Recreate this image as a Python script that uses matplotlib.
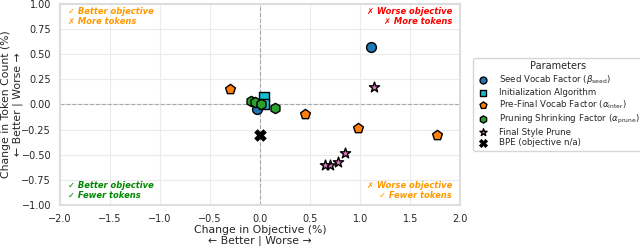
import matplotlib
matplotlib.use("Agg")
import matplotlib.pyplot as plt
import seaborn as sns

sns.set_theme(style="whitegrid")
plt.rcParams['font.family'] = ['DejaVu Sans']

seed_x = [1.11, -0.03]
seed_y = [0.57, -0.05]
init_x = [0.04, 0.04]
init_y = [0.07, 0.00]
inter_x = [-0.30, 0.45, 0.98, 1.77]
inter_y = [0.15, -0.10, -0.23, -0.30]
prune_x = [-0.09, -0.05, 0.01, 0.15]
prune_y = [0.03, 0.02, 0.00, -0.04]
style_x = [1.14, 0.85, 0.78, 0.70, 0.65]
style_y = [0.17, -0.48, -0.57, -0.60, -0.60]
bpe_x = [0.0]
bpe_y = [-0.30]

xticks = [-2.0, -1.5, -1.0, -0.5, 0.0, 0.5, 1.0, 1.5, 2.0]
yticks = [-1.00, -0.75, -0.50, -0.25, 0.00, 0.25, 0.50, 0.75, 1.00]

fig = plt.figure(figsize=(6.4, 2.46), dpi=100)
ax = fig.add_axes([0.094, 0.167, 0.625, 0.817])

ax.axhline(0, color='#aaaaaa', ls='--', lw=0.8, zorder=1)
ax.axvline(0, color='#aaaaaa', ls='--', lw=0.8, zorder=1)

ax.scatter(seed_x, seed_y, marker='o', s=50, c='#1f77b4', edgecolors='black', linewidths=1, label=r'Seed Vocab Factor ($\beta_{\mathrm{seed}}$)', zorder=3)
ax.scatter(init_x, init_y, marker='s', s=50, c='#17becf', edgecolors='black', linewidths=1, label='Initialization Algorithm', zorder=3)
ax.scatter(inter_x, inter_y, marker='p', s=55, c='#ff7f0e', edgecolors='black', linewidths=1, label=r'Pre-Final Vocab Factor ($\alpha_{\mathrm{inter}}$)', zorder=3)
ax.scatter(prune_x, prune_y, marker='h', s=55, c='#2ca02c', edgecolors='black', linewidths=1, label=r'Pruning Shrinking Factor ($\alpha_{\mathrm{prune}}$)', zorder=4)
ax.scatter(style_x, style_y, marker='*', s=60, c='#e377c2', edgecolors='black', linewidths=1, label='Final Style Prune', zorder=3)
ax.scatter(bpe_x, bpe_y, marker='X', s=70, c='black', edgecolors='black', linewidths=0.5, label='BPE (objective n/a)', zorder=3)

ax.set_xlim(-2, 2)
ax.set_ylim(-1, 1)
ax.set_xticks(xticks)
ax.set_yticks(yticks)
ax.tick_params(labelsize=7, pad=0.5)
ax.grid(True, color='#ebebeb', lw=0.8)
for s in ax.spines.values():
    s.set_color('#dddddd')
    s.set_linewidth(1.5)

ax.set_xlabel('Change in Objective (%)\n\u2190 Better | Worse \u2192', fontsize=7.8, labelpad=1, linespacing=1.05)
ax.set_ylabel('Change in Token Count (%)\n\u2190 Better | Worse \u2192', fontsize=7.8, labelpad=-1, linespacing=1.2)

kw = dict(fontsize=6, fontweight='bold', fontstyle='italic', transform=ax.transAxes, linespacing=1.15)
ax.text(0.02, 0.985, '\u2713 Better objective\n\u2717 More tokens', color='#ff9900', ha='left', va='top', **kw)
ax.text(0.98, 0.985, '\u2717 Worse objective\n\u2717 More tokens', color='#ff0000', ha='right', va='top', **kw)
ax.text(0.02, 0.025, '\u2713 Better objective\n\u2713 Fewer tokens', color='#008800', ha='left', va='bottom', **kw)
ax.text(0.98, 0.025, '\u2717 Worse objective\n\u2713 Fewer tokens', color='#ff9900', ha='right', va='bottom', **kw)

leg = ax.legend(title='Parameters', loc='upper left', bbox_to_anchor=(473/640, 1 - 58/246),
                bbox_transform=fig.transFigure, borderaxespad=0, fontsize=6.2,
                title_fontsize=7, frameon=True, handletextpad=1.0, borderpad=0.4, labelspacing=0.2,
                handlelength=1.6, markerscale=0.7)
leg.get_frame().set_edgecolor('#cccccc')

fig.savefig('out.png', dpi=100)
